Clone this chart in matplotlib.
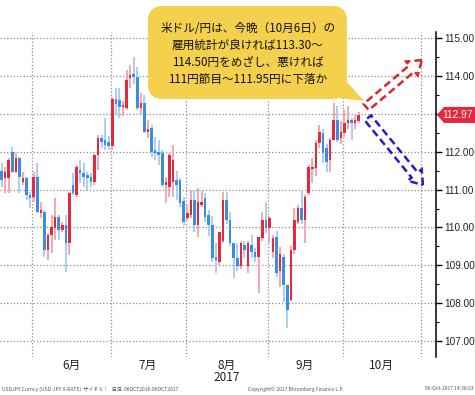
import matplotlib
matplotlib.use("Agg")
import matplotlib.pyplot as plt
import numpy as np
import pandas as pd
from matplotlib.patches import FancyArrow, FancyBboxPatch, Polygon
from matplotlib.ticker import FuncFormatter, MultipleLocator

plt.rcParams["font.family"] = ["Noto Sans CJK JP", "DejaVu Sans"]

# daily USD/JPY candles, 2017-05-19 .. 2017-10-06 (business days)
START_DATE = "2017-05-19"
OPEN = [111.49, 111.31, 111.31, 112.00, 111.47, 111.83, 111.20, 111.31, 110.86, 110.80,
        111.33, 110.38, 110.41, 109.41, 109.80, 109.99, 110.28, 109.93, 110.07, 109.58,
        111.12, 110.85, 111.52, 111.43, 111.39, 111.34, 111.21, 111.91, 112.35, 112.31,
        112.25, 112.14, 113.40, 113.36, 113.18, 113.15, 113.94, 114.05, 113.97, 113.15,
        113.28, 112.52, 112.63, 112.04, 111.99, 111.97, 111.12, 111.08, 111.21, 111.25,
        111.25, 110.70, 110.25, 110.33, 110.73, 110.07, 110.60, 110.77, 110.33, 110.07,
        109.23, 109.10, 109.63, 110.73, 110.20, 109.58, 109.19, 108.97, 109.55, 108.97,
        109.54, 109.36, 109.23, 109.71, 110.20, 109.98, 109.36, 109.76, 108.85, 109.23,
        108.48, 108.09, 109.41, 110.15, 110.51, 110.20, 110.90, 111.54, 111.56, 112.22,
        112.49, 112.09, 111.78, 112.31, 112.84, 112.35, 112.49, 112.75, 112.84, 112.75,
        112.80]
HIGH = [111.70, 111.60, 111.83, 112.12, 111.97, 111.85, 111.46, 111.33, 110.94, 111.46,
        111.70, 110.67, 110.46, 109.85, 110.33, 110.78, 110.33, 110.14, 110.33, 110.94,
        111.43, 111.65, 111.78, 111.69, 111.47, 111.43, 111.95, 112.44, 112.44, 112.88,
        112.42, 113.45, 113.67, 113.67, 113.35, 114.16, 114.29, 114.49, 114.24, 113.55,
        113.50, 112.84, 112.70, 112.39, 112.31, 112.04, 111.34, 111.97, 112.18, 111.50,
        111.30, 110.80, 110.60, 111.00, 111.00, 111.03, 110.95, 110.90, 110.45, 110.30,
        109.58, 109.89, 110.94, 110.94, 110.40, 109.60, 109.58, 109.65, 109.65, 109.65,
        109.80, 109.45, 109.76, 110.40, 110.68, 110.30, 109.80, 109.90, 109.49, 109.30,
        108.48, 109.50, 110.51, 110.60, 111.00, 110.86, 111.65, 111.83, 112.30, 112.71,
        112.60, 112.20, 112.35, 113.28, 113.20, 112.80, 113.10, 113.20, 112.90, 113.00,
        113.05]
LOW = [111.07, 110.90, 110.91, 111.44, 111.45, 110.90, 111.13, 110.73, 110.51, 110.67,
       110.38, 110.25, 109.22, 109.14, 109.33, 109.67, 109.67, 109.88, 108.83, 109.27,
       110.86, 110.80, 111.17, 111.08, 110.99, 111.08, 111.12, 111.52, 112.09, 112.05,
       112.05, 112.05, 112.97, 112.88, 112.95, 113.10, 113.68, 113.80, 113.10, 112.97,
       112.50, 112.36, 111.86, 111.78, 111.65, 111.07, 110.64, 110.81, 110.80, 110.73,
       110.55, 110.05, 110.20, 110.25, 109.89, 109.75, 110.55, 110.15, 109.77, 109.10,
       108.80, 109.00, 109.60, 110.10, 109.50, 108.66, 108.85, 108.90, 109.20, 108.80,
       109.20, 109.10, 108.27, 109.65, 109.85, 109.58, 109.20, 108.70, 108.43, 108.04,
       107.35, 108.05, 109.30, 110.10, 110.10, 109.58, 110.85, 111.17, 111.35, 112.10,
       111.70, 111.47, 111.47, 112.30, 112.25, 112.20, 112.40, 112.60, 112.31, 112.60,
       112.75]
CLOSE = [111.25, 111.46, 111.78, 111.47, 111.83, 111.33, 111.31, 110.86, 110.78, 111.33,
         110.41, 110.46, 109.41, 109.80, 110.01, 110.28, 109.93, 110.07, 109.58, 110.90,
         110.90, 111.60, 111.45, 111.34, 111.30, 111.21, 111.91, 112.35, 112.26, 112.18,
         112.14, 113.38, 113.25, 113.18, 113.22, 113.89, 114.02, 113.97, 113.15, 113.28,
         112.52, 112.60, 111.99, 111.97, 111.91, 111.12, 111.20, 111.91, 111.78, 111.12,
         110.64, 110.15, 110.38, 110.73, 110.07, 110.68, 110.68, 110.28, 110.07, 109.19,
         109.14, 109.89, 110.73, 110.20, 109.58, 109.19, 108.97, 109.58, 109.40, 109.58,
         109.36, 109.23, 109.76, 110.20, 109.98, 110.24, 109.71, 108.79, 109.30, 108.48,
         107.82, 109.41, 110.20, 110.51, 110.20, 110.81, 111.60, 111.60, 112.22, 112.53,
         111.96, 111.74, 112.31, 112.84, 112.31, 112.53, 112.75, 112.84, 112.75, 112.84,
         112.97]

Y_TICKS = [107, 108, 109, 110, 111, 112, 113, 114, 115]
MONTH_LABELS = ["6月", "7月", "8月", "9月", "10月"]
YEAR_LABEL = "2017"
CALLOUT_LINES = [
    "米ドル/円は、今晩（10月6日）の",
    "雇用統計が良ければ113.30〜",
    "114.50円をめざし、悪ければ",
    "111円節目〜111.95円に下落か",
]
# scenario arrows (index, price): tail -> head
ARROW_UP = ((102.1, 113.18), (117.7, 114.42))
ARROW_DOWN = ((102.6, 112.89), (118.0, 111.12))

FOOTER_LEFT = "USDJPY Curncy (USD-JPY X-RATE)  ザイＦＸ！   日足  06OCT2016-06OCT2017"
FOOTER_MID = "Copyright© 2017 Bloomberg Finance L.P."
FOOTER_RIGHT = "06-Oct-2017 14:38:03"

RED, RED_LIGHT = "#e5283e", "#f3a0ab"
BLUE, BLUE_LIGHT = "#3b8de2", "#a3cbf2"
YELLOW = "#f4d04c"
NUM_FONT = "Liberation Sans"

W, H = 475, 395
fig = plt.figure(figsize=(W / 100, H / 100), dpi=100)
ax = fig.add_axes([0, 1 - 357 / H, 436 / W, (357 - 32) / H])

o, hi, lo, c = map(np.array, (OPEN, HIGH, LOW, CLOSE))
x = np.arange(len(c))
up = c >= o
ax.vlines(x, lo, hi, colors=np.where(up, RED_LIGHT, BLUE_LIGHT), linewidth=1.3, zorder=2)
ax.bar(x, np.maximum(np.abs(c - o), 0.05), bottom=np.minimum(o, c), width=0.72,
       color=np.where(up, RED, BLUE), linewidth=0, zorder=3)

# month boundaries on a business-day axis
all_days = pd.bdate_range(START_DATE, "2017-11-30")
starts = [int(np.argmax(all_days.month == m)) for m in (6, 7, 8, 9, 10, 11)]
bounds = [s - 0.5 for s in starts]
for b in bounds:
    ax.axvline(b, color="#8c8c8c", linestyle=":", linewidth=0.9, zorder=1)
centers = [(a + b) / 2 for a, b in zip(bounds[:-1], bounds[1:])]
xt = ax.get_xaxis_transform()
for cx, lab in zip(centers, MONTH_LABELS):
    ax.text(cx, -0.025, lab, transform=xt, ha="center", va="center", fontsize=8.5, color="#222")
ax.text(centers[2], -0.062, YEAR_LABEL, transform=xt, ha="center", va="center",
        fontsize=8.5, color="#222")

ax.set_xlim(-0.46, 121.66)
ax.set_ylim(106.58, 115.16)
ax.set_xticks([])
ax.set_yticks(Y_TICKS)
ax.yaxis.set_minor_locator(MultipleLocator(0.5))
ax.yaxis.tick_right()
ax.yaxis.set_major_formatter(FuncFormatter(lambda v, p: "" if abs(v - 113) < 1e-6 else f"{v:.2f}"))
ax.tick_params(axis="y", which="major", length=4.5, width=1, labelsize=7.2,
               labelcolor="#222", pad=1.5, labelfontfamily=NUM_FONT)
ax.tick_params(axis="y", which="minor", length=2.5, width=0.8)
ax.grid(axis="y", color="#8c8c8c", linestyle=":", linewidth=0.9, zorder=1)
for side in ("left", "top", "bottom"):
    ax.spines[side].set_visible(False)
ax.spines["right"].set_linewidth(1.1)

# overlay in pixel coordinates for callout, arrows and tag
ov = fig.add_axes([0, 0, 1, 1])
ov.set_xlim(0, W)
ov.set_ylim(H, 0)
ov.axis("off")


def to_px(pt):
    dx, dy = ax.transData.transform(pt)
    return dx, H - dy


ov.add_patch(FancyBboxPatch((150, 8), 195, 89, boxstyle="round,pad=2,rounding_size=15",
                            facecolor=YELLOW, edgecolor="none", zorder=5))
ov.add_patch(Polygon([(338, 72), (364, 101), (322, 96)], closed=True,
                     facecolor=YELLOW, edgecolor="none", zorder=5))
for k, line in enumerate(CALLOUT_LINES):
    ov.text(248, 28 + k * 17.3, line, ha="center", va="center", fontsize=8.4,
            color="#111", zorder=6)

for (tail, head), col in ((ARROW_UP, "#d42a2a"), (ARROW_DOWN, "#2222b8")):
    x0, y0 = to_px(tail)
    x1, y1 = to_px(head)
    ov.add_patch(FancyArrow(x0, y0, x1 - x0, y1 - y0, width=8, head_width=18, head_length=13,
                            length_includes_head=True, fill=False, edgecolor=col,
                            linewidth=1.8, linestyle=(0, (3, 1.6)), zorder=6))

# last price tag
_, ty = to_px((0, c[-1]))
tx = 437
ov.add_patch(Polygon([(tx, ty), (tx + 7, ty - 8), (W, ty - 8), (W, ty + 8), (tx + 7, ty + 8)],
                     closed=True, facecolor=RED, edgecolor="none", zorder=6))
ov.text(458, ty, f"{c[-1]:.2f}", ha="center", va="center", fontsize=7.4, color="white",
        family=NUM_FONT, zorder=7)

ov.text(2, 389, FOOTER_LEFT, ha="left", va="center", fontsize=3.6, color="#555")
ov.text(296, 389, FOOTER_MID, ha="center", va="center", fontsize=3.6, color="#555")
ov.text(474, 389, FOOTER_RIGHT, ha="right", va="center", fontsize=3.6, color="#555")

fig.savefig("out.png", dpi=100)
